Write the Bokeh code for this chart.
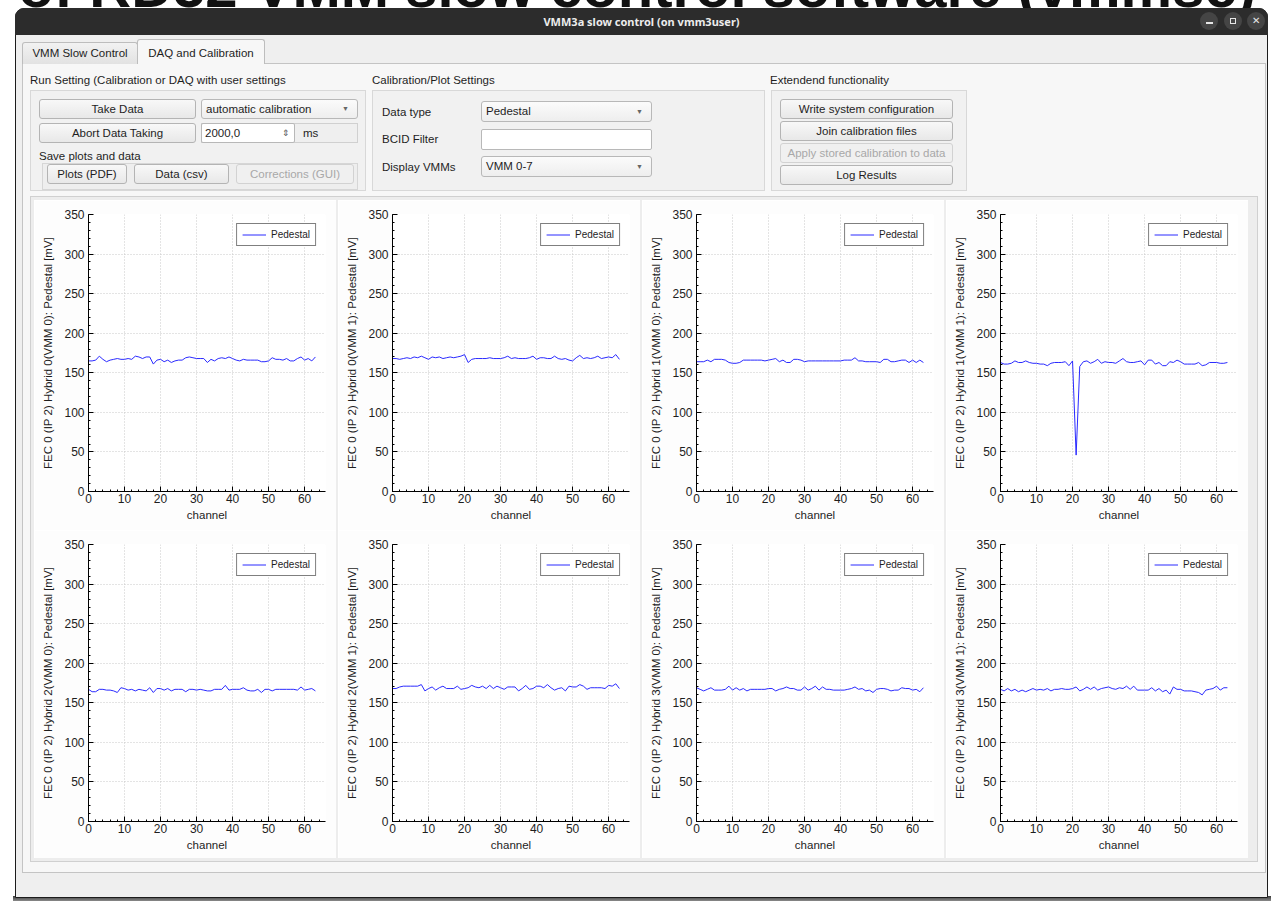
from bokeh.plotting import figure
from bokeh.layouts import row, column
from bokeh.models import Div, Range1d, SingleIntervalTicker, Legend, LegendItem
from bokeh.embed import file_html
from bokeh.resources import INLINE

# ---------------- data ----------------
channels = list(range(64))

ped_h0_vmm0 = [165,165,166,171,167,164,166,167,168,167,
               167,168,167,171,170,168,170,170,161,166,
               167,164,166,163,165,166,166,169,170,169,
               168,168,168,163,167,165,168,169,168,170,
               168,166,165,167,166,166,166,166,164,164,
               165,169,167,167,166,168,165,165,168,170,
               166,168,165,170]
ped_h0_vmm1 = [168,168,167,168,169,168,170,169,171,169,
               167,170,169,170,168,169,170,169,170,171,
               173,163,167,168,168,168,168,169,168,168,
               168,169,171,168,169,168,168,168,169,171,
               167,169,169,168,168,171,168,167,168,166,
               165,169,172,168,169,168,169,171,168,169,
               170,169,173,167]
ped_h1_vmm0 = [164,164,164,166,164,167,167,167,166,163,
               162,162,163,166,166,166,166,166,166,165,
               166,167,168,164,166,163,163,167,167,166,
               164,165,165,165,165,165,165,165,165,165,
               165,166,166,166,169,165,165,164,164,164,
               164,163,167,167,164,164,165,166,166,163,
               166,163,166,163]
ped_h1_vmm1 = [163,161,161,162,165,163,163,165,163,162,
               162,161,161,159,162,163,163,163,164,159,
               165,46,158,164,165,162,164,167,162,164,
               163,163,162,165,168,164,163,163,164,165,
               160,166,166,161,163,159,159,164,163,166,
               164,161,161,161,161,163,159,160,163,163,
               163,162,162,163]
ped_h2_vmm0 = [167,164,164,167,167,166,166,165,163,169,
               168,166,167,165,167,166,165,169,163,168,
               168,166,168,165,167,167,167,164,167,167,
               166,167,166,165,165,167,167,167,172,166,
               167,167,167,169,166,165,165,167,163,167,
               167,165,167,167,167,167,167,167,166,170,
               166,167,168,165]
ped_h2_vmm1 = [168,168,170,171,171,171,171,171,173,165,
               168,170,166,169,171,168,168,168,171,167,
               168,169,172,170,169,171,168,172,168,171,
               169,167,170,170,170,165,168,172,167,168,
               171,171,169,173,169,166,168,169,165,171,
               170,170,173,171,167,169,169,169,169,168,
               172,171,174,168]
ped_h3_vmm0 = [169,167,165,167,169,166,166,166,167,171,
               166,169,166,168,165,167,167,167,167,167,
               168,168,165,167,168,170,168,168,166,166,
               170,166,168,171,166,170,167,167,166,166,
               166,166,167,168,170,167,168,165,166,163,
               167,168,168,167,165,166,166,169,168,168,
               166,167,164,169]
ped_h3_vmm1 = [167,165,168,165,167,164,166,164,166,168,
               166,167,166,168,165,167,167,168,167,167,
               168,170,165,167,170,167,170,166,168,169,
               170,168,167,169,168,171,167,171,166,166,
               166,166,169,165,168,164,166,161,170,167,
               167,165,165,165,164,163,160,166,167,168,
               171,166,169,169]

series = [ped_h0_vmm0, ped_h0_vmm1, ped_h1_vmm0, ped_h1_vmm1,
          ped_h2_vmm0, ped_h2_vmm1, ped_h3_vmm0, ped_h3_vmm1]
y_labels = ["FEC 0 (IP 2) Hybrid 0(VMM 0): Pedestal [mV]",
            "FEC 0 (IP 2) Hybrid 0(VMM 1): Pedestal [mV]",
            "FEC 0 (IP 2) Hybrid 1(VMM 0): Pedestal [mV]",
            "FEC 0 (IP 2) Hybrid 1(VMM 1): Pedestal [mV]",
            "FEC 0 (IP 2) Hybrid 2(VMM 0): Pedestal [mV]",
            "FEC 0 (IP 2) Hybrid 2(VMM 1): Pedestal [mV]",
            "FEC 0 (IP 2) Hybrid 3(VMM 0): Pedestal [mV]",
            "FEC 0 (IP 2) Hybrid 3(VMM 1): Pedestal [mV]"]
x_label = "channel"
legend_label = "Pedestal"
page_title = "GUI of RD52 VMM slow control software (vmmsc)"

FONT = "Liberation Sans"
TXT = "#1e1e1e"
CELL_W = 302


def make_plot(values, ylabel, height, border_bottom):
    p = figure(width=CELL_W, height=height, output_backend="svg", toolbar_location=None,
               x_range=Range1d(0, 65.8), y_range=Range1d(0, 350),
               min_border_left=54, min_border_right=11, min_border_top=14,
               min_border_bottom=border_bottom, background_fill_color="white",
               border_fill_color="#fdfdfd", outline_line_color=None, margin=0)
    r = p.line(channels, values, line_color="#2a2aff", line_width=1)
    p.xaxis.ticker = SingleIntervalTicker(interval=10, num_minor_ticks=5)
    p.yaxis.ticker = SingleIntervalTicker(interval=50, num_minor_ticks=5)
    for ax in (p.xaxis[0], p.yaxis[0]):
        ax.major_tick_in = 5
        ax.major_tick_out = 0
        ax.minor_tick_in = 2
        ax.minor_tick_out = 0
        ax.axis_line_color = "black"
        ax.major_tick_line_color = "black"
        ax.minor_tick_line_color = "black"
        ax.major_label_text_font = FONT
        ax.major_label_text_font_size = "12px"
        ax.major_label_text_color = TXT
        ax.axis_label_text_font = FONT
        ax.axis_label_text_font_size = "11.5px"
        ax.axis_label_text_font_style = "normal"
        ax.axis_label_text_color = TXT
    p.xaxis.axis_label = x_label
    p.yaxis.axis_label = ylabel
    p.xaxis.major_label_standoff = 2
    p.xaxis.axis_label_standoff = 3
    p.yaxis.major_label_standoff = 4
    p.yaxis.axis_label_standoff = 7
    for g in (p.xgrid[0], p.ygrid[0]):
        g.grid_line_color = "#c8c8c8"
        g.grid_line_dash = "1 2"
        g.grid_line_width = 1
    leg = Legend(items=[LegendItem(label=legend_label, renderers=[r])],
                 location="top_right", margin=9, padding=5, spacing=0,
                 glyph_width=24, glyph_height=11, label_height=11,
                 label_standoff=5, label_text_font=FONT,
                 label_text_font_size="10px", label_text_color=TXT,
                 border_line_color="black", border_line_width=1,
                 background_fill_color="white", background_fill_alpha=1)
    p.add_layout(leg)
    return p


# ---------------- GUI chrome (HTML, in screenshot pixel coordinates) ----------------
parts = []   # (x, y, w, h, html)


def box(x, y, w, h, style, inner=""):
    parts.append((x, y, w, h,
                  f'<div style="position:absolute;left:{x}px;top:{y}px;width:{w}px;height:{h}px;'
                  f'box-sizing:border-box;{style}">{inner}</div>'))


def label(x, yc, s, style=""):
    parts.append((x, yc - 8, 300, 16,
                  f'<div style="position:absolute;left:{x}px;top:{yc-8}px;height:16px;line-height:16px;'
                  f'white-space:nowrap;{style}">{s}</div>'))


def button(x, y, w, h, s, disabled=False):
    col = "#a8a8a8" if disabled else TXT
    bor = "#d2d2d2" if disabled else "#b4b4b4"
    bg = "#f0f0f0" if disabled else "linear-gradient(#f8f8f8,#e8e8e8)"
    box(x, y, w, h, f"border:1px solid {bor};border-radius:3px;background:{bg};color:{col};"
        "display:flex;align-items:center;justify-content:center;white-space:nowrap;", s)


def combo(x, y, w, h, s):
    inner = (f'<span style="position:absolute;left:4px;top:0;line-height:{h-2}px;">{s}</span>'
             f'<span style="position:absolute;right:8px;top:0;line-height:{h-2}px;font-size:7px;color:#666;">&#9660;</span>')
    box(x, y, w, h, "border:1px solid #b8b8b8;border-radius:3px;background:linear-gradient(#fbfbfb,#eeeeee);", inner)


# page title behind the window (only its lower edge shows above the window)
box(0, 0, 1273, 8, "overflow:hidden;",
    '<div style="position:absolute;right:17px;bottom:-8px;white-space:nowrap;font-weight:bold;'
    f'font-size:58px;line-height:58px;color:#111;font-family:\'{FONT}\';">{page_title}</div>')
# window + shadow
box(13, 896, 1258, 5, "background:linear-gradient(#3a3a3a,#8a8a8a);")
box(15, 8, 1253, 890, "background:#efefef;border:1px solid #1c1c1c;border-radius:9px 9px 0 0;")
box(15, 8, 1253, 27, "background:#2c2c2c;border-radius:9px 9px 0 0;color:#ececec;"
    "font-family:'Noto Sans';font-weight:bold;font-size:11px;line-height:27px;text-align:center;",
    "VMM3a slow control (on vmm3user)")
for cx, kind in [(1209, "min"), (1233, "max"), (1256, "close")]:
    if kind == "min":
        g = '<div style="width:7px;height:2px;background:#e6e6e6;margin-top:3px;"></div>'
    elif kind == "max":
        g = '<div style="width:6px;height:6px;border:1px solid #e6e6e6;"></div>'
    else:
        g = '<div style="color:#e6e6e6;font-size:10px;line-height:10px;">&#10005;</div>'
    box(cx - 9, 12, 18, 18, "border-radius:50%;background:#454545;display:flex;"
        "align-items:center;justify-content:center;", g)
# tab panel + tabs
box(22, 63, 1244, 810, "background:#f7f7f7;border:1px solid #c4c4c4;")
box(22, 42, 116, 22, "background:linear-gradient(#f2f2f2,#e2e2e2);border:1px solid #bdbdbd;"
    "border-bottom:none;border-radius:3px 3px 0 0;display:flex;align-items:center;"
    "justify-content:center;", "VMM Slow Control")
box(137, 39, 128, 25, "background:#f7f7f7;border:1px solid #bdbdbd;border-bottom:none;"
    "border-radius:3px 3px 0 0;display:flex;align-items:center;justify-content:center;"
    "padding-top:2px;", "DAQ and Calibration")
# group boxes
label(30, 80, "Run Setting (Calibration or DAQ with user settings")
label(372, 80, "Calibration/Plot Settings")
label(770, 80, "Extendend functionality")
box(30, 90, 336, 101, "background:#f1f1f1;border:1px solid #d8d8d8;")
box(372, 90, 393, 101, "background:#f1f1f1;border:1px solid #d8d8d8;")
box(771, 90, 196, 101, "background:#f1f1f1;border:1px solid #d8d8d8;")
# group 1
button(39, 99, 157, 20, "Take Data")
combo(201, 99, 157, 20, "automatic calibration")
button(39, 123, 157, 20, "Abort Data Taking")
box(201, 123, 157, 20, "border:1px solid #d0d0d0;background:#efefef;")
box(201, 123, 94, 20, "border:1px solid #b8b8b8;border-radius:2px;background:#ffffff;",
    '<span style="position:absolute;left:3px;top:0;line-height:18px;">2000,0</span>'
    '<span style="position:absolute;right:4px;top:0;line-height:18px;font-size:9px;color:#555;">&#8661;</span>')
label(303, 133, "ms")
label(39, 156, "Save plots and data")
box(42, 163, 316, 27, "border:1px solid #d6d6d6;background:#eeeeee;")
button(47, 164, 80, 20, "Plots (PDF)")
button(134, 164, 95, 20, "Data (csv)")
button(236, 164, 118, 20, "Corrections (GUI)", disabled=True)
# group 2
label(382, 112, "Data type")
combo(481, 101, 171, 21, "Pedestal")
label(382, 139, "BCID Filter")
box(481, 129, 171, 21, "border:1px solid #b8b8b8;border-radius:2px;background:#ffffff;")
label(382, 167, "Display VMMs")
combo(481, 156, 171, 21, "VMM 0-7")
# group 3
button(780, 99, 173, 20, "Write system configuration")
button(780, 121, 173, 20, "Join calibration files")
button(780, 143, 173, 20, "Apply stored calibration to data", disabled=True)
button(780, 165, 173, 20, "Log Results")
# plot panel
box(30, 196, 1228, 666, "background:#ededed;border:1px solid #d0d0d0;")

BASE = f"font-family:'{FONT}',Arial,sans-serif;font-size:11.5px;color:{TXT};"
TOTAL_W = 1271


def slice_div(sx, sy, w, h):
    """A Div showing the chrome region [sx, sx+w) x [sy, sy+h) of the screenshot."""
    sel = [ht for (x, y, pw, ph, ht) in parts
           if x < sx + w and x + pw > sx and y < sy + h and y + ph > sy]
    html = (f'<div style="position:relative;width:{w}px;height:{h}px;overflow:hidden;">'
            f'<div style="position:absolute;left:{-sx}px;top:{-sy}px;width:1273px;height:903px;{BASE}">'
            f'{"".join(sel)}</div></div>')
    return Div(text=html, width=w, height=h, margin=0, styles={"overflow": "hidden"})


plots_top = [make_plot(v, l, 330, 39) for v, l in zip(series[:4], y_labels[:4])]
plots_bot = [make_plot(v, l, 328, 37) for v, l in zip(series[4:], y_labels[4:])]

X0 = 34
GAP = 2
xs = [X0 + i * (CELL_W + GAP) for i in range(4)]


def plot_row(y, h, figs):
    kids = [slice_div(0, y, X0, h)]
    for i, f in enumerate(figs):
        kids.append(f)
        if i < 3:
            kids.append(slice_div(xs[i] + CELL_W, y, GAP, h))
    right_x = xs[3] + CELL_W
    kids.append(slice_div(right_x, y, TOTAL_W - right_x, h))
    return row(kids, spacing=0, margin=0)


root = column([
    slice_div(0, 0, TOTAL_W, 200),
    plot_row(200, 330, plots_top),
    plot_row(530, 328, plots_bot),
    slice_div(0, 858, TOTAL_W, 43),
], spacing=0, margin=0)

open("out.html", "w").write(file_html(root, INLINE, title="VMM3a slow control"))
